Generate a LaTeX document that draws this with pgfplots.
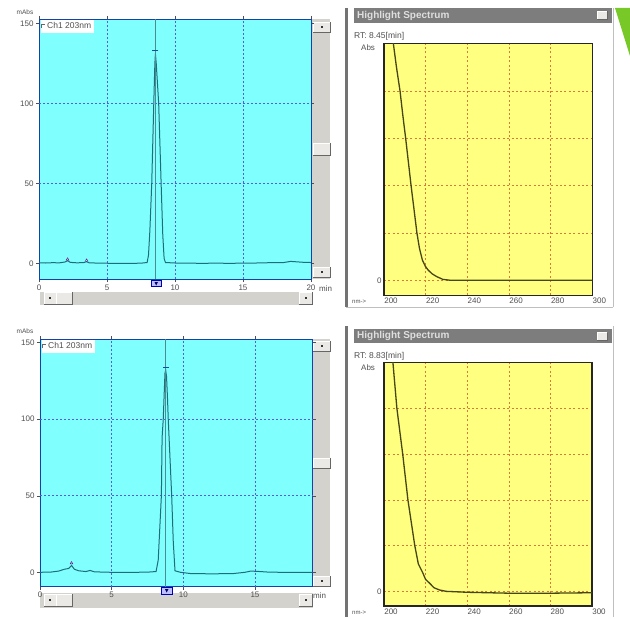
\documentclass[border=0pt]{standalone}
\usepackage{fontspec}
\setmainfont{Liberation Sans}
\usepackage{pgfplots}
\pgfplotsset{compat=1.18}
\definecolor{cyanbg}{RGB}{128,255,255}
\definecolor{yelbg}{RGB}{255,255,128}
\definecolor{chrom}{RGB}{30,110,120}
\definecolor{gridblue}{RGB}{90,90,220}
\definecolor{gridred}{RGB}{220,120,60}
\definecolor{specline}{RGB}{70,70,20}
\definecolor{sbgray}{RGB}{212,210,205}
\definecolor{titlegray}{RGB}{125,125,125}
\definecolor{txt}{RGB}{80,80,80}
\definecolor{slidegreen}{RGB}{120,200,40}
\definecolor{markbox}{RGB}{190,190,255}

\newcommand{\sbutton}[4]{%
  \fill[sbgray!50!white] (#1,#2) rectangle (#3,#4);
  \draw[black!60, line width=0.7pt] (#1,#4) -- (#3,#4) -- (#3,#2);
  \draw[white, line width=0.5pt] (#1,#4) -- (#1,#2) -- (#3,#2);}
\newcommand{\dotbutton}[4]{\sbutton{#1}{#2}{#3}{#4}%
  \fill[black!80] ({(#1+#3)/2-1},{(#2+#4)/2-1}) rectangle ({(#1+#3)/2+1},{(#2+#4)/2+1});}

\newcommand{\lbl}{\fontsize{8}{9}\selectfont}

\pgfplotsset{
  chromax/.style={
    scale only axis, anchor=south west,
    axis background/.style={fill=cyanbg},
    axis line style={draw=chrom!60!blue, line width=0.8pt},
    tick align=outside, major tick length=3pt,
    tick style={draw=txt, line width=0.5pt},
    xtick={0,5,10,15,20},
    ytick={0,50,100,150},
    extra x ticks={5,10,15}, extra x tick labels={},
    extra y ticks={50,100}, extra y tick labels={},
    extra tick style={grid=major, major tick length=0pt},
    grid style={gridblue, dash pattern=on 1.6pt off 2.4pt, line width=0.6pt},
    ticklabel style={font=\lbl, text=txt},
    /pgf/number format/assume math mode=true,
    xticklabel style={yshift=1pt},
    yticklabel style={xshift=1pt},
    clip mode=individual,
    legend style={at={(0.005,0.998)}, anchor=north west, draw=none, fill=white,
      inner sep=0.6pt, font=\fontsize{8.5}{9}\selectfont, text=txt, row sep=-1pt},
    legend image code/.code={\draw[black!60, line width=0.6pt] (0cm,-0.06cm) -- (0cm,0.07cm) -- (0.12cm,0.07cm);},
  },
  specax/.style={
    scale only axis, anchor=south west,
    xmin=200, xmax=300,
    axis background/.style={fill=yelbg},
    axis line style={draw=black!85, line width=1.4pt},
    xtick={200,220,...,300},
    ytick={0,1,2,3,4}, yticklabels={0,,,,},
    grid=major,
    grid style={gridred, dash pattern=on 2pt off 2.4pt, line width=0.6pt},
    major tick length=0pt,
    ticklabel style={font=\lbl, text=txt},
    /pgf/number format/assume math mode=true,
    /pgf/number format/1000 sep={},
    xticklabel style={xshift=7pt, yshift=1pt},
    yticklabel style={xshift=1pt},
    clip mode=individual,
  },
}

\begin{document}
\begin{tikzpicture}
% ---------- background decorations (pixel coordinates, y downward)
\begin{scope}[x=1pt, y=-1pt]
  \path[fill=white] (0,0) rectangle (630,617);
  % green slide triangle
  \fill[slidegreen] (615,8) -- (630,8) -- (630,56) -- cycle;
  % spectrum windows
  \foreach \t/\b in {8/307, 326/617} {
    \draw[black!55, line width=2.2pt] (346.5,\t) -- (346.5,\b);
    \draw[black!25, line width=0.6pt] (613,\t) -- (613,\b);
  }
  \draw[black!25, line width=0.8pt] (346,307) -- (613,307);
  \fill[titlegray] (354,8.3) rectangle (612,22.7);
  \fill[titlegray] (354,329.3) rectangle (612,342.7);
  \sbutton{597}{11.5}{607}{19.5}
  \sbutton{597}{332.5}{607}{340}
  \node[anchor=west, inner sep=0pt, text=white!75!gray, font=\fontsize{10}{10}\selectfont\bfseries] at (357,15.5) {Highlight Spectrum};
  \node[anchor=west, inner sep=0pt, text=white!75!gray, font=\fontsize{10}{10}\selectfont\bfseries] at (357,336) {Highlight Spectrum};
  % scrollbars of chromatogram panels
  \fill[sbgray] (312,19) rectangle (330,279);
  \dotbutton{313}{22}{330}{32}
  \sbutton{313}{143}{330}{155}
  \dotbutton{313}{267}{330}{277}
  \fill[sbgray] (40,291.5) rectangle (313,305);
  \dotbutton{44}{292}{56}{304}
  \sbutton{56}{292}{72}{304}
  \dotbutton{299}{292}{312}{304}
  \fill[sbgray] (313,339) rectangle (330,587);
  \dotbutton{313}{341}{330}{351}
  \sbutton{313}{458}{330}{468}
  \dotbutton{313}{576}{330}{586}
  \fill[sbgray] (40,593) rectangle (313,608);
  \dotbutton{44}{594}{56}{606}
  \sbutton{56}{594}{72}{606}
  \dotbutton{299}{594}{312}{606}
\end{scope}

% ---------- top chromatogram
\begin{axis}[chromax, at={(39pt,-279pt)}, width=272pt, height=260pt,
  xmin=0, xmax=20, ymin=-9.8, ymax=152.7]
\addplot[chrom, line width=1pt] coordinates {
 (0,0.3) (0.5,0.2) (1.0,0.4) (1.5,0.3) (1.9,0.8) (2.1,1.6) (2.3,0.6) (2.8,0.3)
 (3.3,0.5) (3.5,1.0) (3.7,0.3) (4.5,0.1) (5.5,0.0) (6.5,-0.1) (7.5,0.1)
 (7.95,0.5) (8.05,5) (8.15,20) (8.29,50) (8.44,100) (8.52,125) (8.56,131)
 (8.62,125) (8.80,100) (8.98,50) (9.10,18) (9.20,3) (9.30,0.5) (10,0.2)
 (11,0.1) (12,0.0) (13,0.1) (14,0.0) (15,0.1) (16,0.2) (17,0.4) (18,0.5)
 (18.5,1.2) (19,0.9) (19.5,0.6) (20,0.5)};
\addlegendentry{Ch1 203nm}
\addplot[chrom!80!white, line width=0.5pt, forget plot] coordinates {(8.56,-9.8) (8.56,152.7)};
\addplot[chrom!70!blue, only marks, mark=-, mark size=3pt, forget plot] coordinates {(8.56,133)};
\addplot[violet, only marks, mark=triangle, mark size=1.6pt, forget plot] coordinates {(2.1,2.5) (3.5,1.8)};
\end{axis}
% ---------- bottom chromatogram
\begin{axis}[chromax, at={(40pt,-586.7pt)}, width=272.7pt, height=247.4pt,
  xmin=0, xmax=19.03, ymin=-9.4, ymax=152.2, xtick={0,5,10,15}]
\addplot[chrom, line width=1pt] coordinates {
 (0,0) (0.8,0.2) (1.3,0.8) (1.7,2.0) (2.0,2.5) (2.2,4.5) (2.4,2.0) (2.7,1.0)
 (3.2,0.5) (3.5,1.2) (3.8,0.3) (5,0) (6.5,0) (7.5,0.1) (8.10,0.5) (8.25,8)
 (8.47,50) (8.52,88) (8.60,100) (8.72,130) (8.77,132) (8.83,128) (8.90,113)
 (8.95,100) (9.19,50) (9.30,20) (9.42,1) (9.8,0) (10.5,-0.8) (12,-1.0)
 (13.5,-0.8) (14.3,0) (14.7,0.8) (15.2,0.6) (16,0.1) (17,0) (18,0) (19.03,0)};
\addlegendentry{Ch1 203nm}
\addplot[chrom!80!white, line width=0.5pt, forget plot] coordinates {(8.77,-9.4) (8.77,152.2)};
\addplot[chrom!70!blue, only marks, mark=-, mark size=3pt, forget plot] coordinates {(8.77,134)};
\addplot[violet, only marks, mark=triangle, mark size=1.6pt, forget plot] coordinates {(2.2,6)};
\end{axis}

% ---------- top spectrum
\begin{axis}[specax, at={(384pt,-295.3pt)}, width=208.4pt, height=252pt,
  ymin=-0.317, ymax=5.01]
\addplot[specline, line width=1.3pt] coordinates {
 (203.4,5.3) (204.5,5.0) (206,4.5) (207.7,4) (209,3.5) (210.4,3) (211.7,2.5)
 (213,2) (214.4,1.5) (215.8,1.0) (217,0.68) (218.4,0.43) (219.8,0.3)
 (221.1,0.22) (223,0.14) (225.2,0.08) (228.2,0.02) (232,0) (240,0) (250,0)
 (260,0) (270,0) (280,0) (290,0) (300,0)};
\end{axis}
% ---------- bottom spectrum
\begin{axis}[specax, at={(384pt,-606pt)}, width=208pt, height=243.3pt,
  ymin=-0.32, ymax=5.0]
\addplot[specline, line width=1.3pt] coordinates {
 (203.8,5.2) (204.3,5.0) (206.2,4) (209,3) (211.5,2) (214.8,1) (216.5,0.6)
 (218.7,0.4) (220,0.26) (221.9,0.18) (224,0.08) (226.7,0.03) (230,0)
 (240,-0.02) (260,-0.04) (280,-0.04) (300,-0.03)};
\end{axis}

% ---------- overlay texts and markers
\begin{scope}[x=1pt, y=-1pt]
  \node[font=\fontsize{6.5}{7}\selectfont, text=txt, inner sep=0pt] at (25,12.5) {mAbs};
  \node[font=\fontsize{6.5}{7}\selectfont, text=txt, inner sep=0pt] at (25,331) {mAbs};
  \node[font=\lbl, text=txt, anchor=west, inner sep=0pt] at (319,288.5) {min};
  \node[font=\lbl, text=txt, anchor=west, inner sep=0pt] at (313,596) {min};
  \node[font=\fontsize{8.5}{9}\selectfont, text=txt, anchor=west, inner sep=0pt] at (354,36.5) {RT: 8.45[min]};
  \node[font=\fontsize{8.5}{9}\selectfont, text=txt, anchor=west, inner sep=0pt] at (354,356.5) {RT: 8.83[min]};
  \node[font=\lbl, text=txt, anchor=west, inner sep=0pt] at (361,48) {Abs};
  \node[font=\lbl, text=txt, anchor=west, inner sep=0pt] at (361,367.5) {Abs};
  \node[font=\fontsize{6}{6}\selectfont, text=txt, anchor=west, inner sep=0pt] at (352,302) {nm->};
  \node[font=\fontsize{6}{6}\selectfont, text=txt, anchor=west, inner sep=0pt] at (352,612.5) {nm->};
  % peak position markers under the time axis
  \filldraw[fill=markbox, draw=blue!70!black, line width=0.5pt] (151,280.5) rectangle (161.5,286.5);
  \fill[blue!40!black] (154.5,282) -- (158,282) -- (156.2,285.5) -- cycle;
  \filldraw[fill=markbox, draw=blue!70!black, line width=0.5pt] (161.5,587.5) rectangle (172,594);
  \fill[blue!40!black] (165,589) -- (168.5,589) -- (166.7,592.5) -- cycle;
\end{scope}
\end{tikzpicture}
\end{document}
